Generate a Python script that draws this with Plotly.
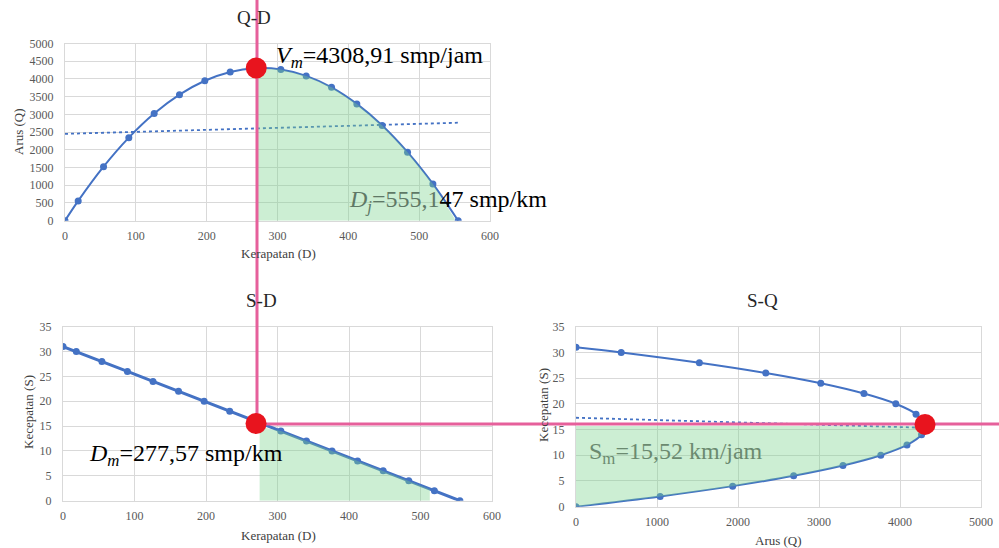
import plotly.graph_objects as go

# ---------------- data ----------------
density = [0, 18.6, 54.4, 90.1, 125.9, 161.6, 197.4, 233.2, 268.9, 304.7,
           340.5, 376.3, 412.0, 447.8, 483.6, 519.4, 555.1]
speed = [31, 30, 28, 26, 24, 22, 20, 18, 16, 14, 12, 10, 8, 6, 4, 2, 0]
flow = [0, 558, 1523, 2343, 3022, 3555, 3948, 4198, 4302, 4266, 4086,
        3763, 3296, 2687, 1934, 1039, 0]

# linear trend lines (dotted)
qd_trend_x = [0, 555.1]
qd_trend_y = [2450, 2765]
sq_trend_x = [0, 4302]
sq_trend_y = [17.3, 15.35]

# key values
Vm = 4308.91
Dj = 555.147
Dm = 277.57
Sm = 15.52
dot_D = 270
dot_S_sq = 16.0

x_ticks_D = [0, 100, 200, 300, 400, 500, 600]
y_ticks_Q = [0, 500, 1000, 1500, 2000, 2500, 3000, 3500, 4000, 4500, 5000]
y_ticks_S = [0, 5, 10, 15, 20, 25, 30, 35]
x_ticks_Q = [0, 1000, 2000, 3000, 4000, 5000]

# ---------------- styling ----------------
W, H = 999, 548
BLUE = "#4472C4"
GREEN = "rgba(120,210,140,0.38)"
PINK = "#E6609B"
RED = "#E8141E"
SERIF = "Liberation Serif, Times New Roman, DejaVu Serif, serif"
TICK = dict(family=SERIF, size=12, color="#595959")


def px(xp):
    return xp / W


def py(yp):
    return 1 - yp / H


fig = go.Figure()

# ---- Q-D ----
fig.add_trace(go.Scatter(x=density, y=flow, mode="lines+markers",
                         line=dict(color=BLUE, width=2, shape="spline", smoothing=1),
                         marker=dict(color=BLUE, size=7), xaxis="x", yaxis="y",
                         hoverinfo="skip"))
fig.add_trace(go.Scatter(x=qd_trend_x, y=qd_trend_y, mode="lines",
                         line=dict(color=BLUE, width=1.8, dash="dot"),
                         xaxis="x", yaxis="y", hoverinfo="skip"))
qd_fx = [272] + density[9:16] + [550, 550, 272]
qd_fy = [4295] + flow[9:16] + [60, 0, 0]
fig.add_trace(go.Scatter(x=qd_fx, y=qd_fy, mode="lines", fill="toself",
                         fillcolor=GREEN, line=dict(width=0),
                         xaxis="x", yaxis="y", hoverinfo="skip"))

# ---- S-D ----
fig.add_trace(go.Scatter(x=density, y=speed, mode="lines+markers",
                         line=dict(color=BLUE, width=3),
                         marker=dict(color=BLUE, size=7), xaxis="x2", yaxis="y2",
                         hoverinfo="skip"))
sd_fx = [275] + density[9:15] + [513, 513, 275]
sd_fy = [14.9] + speed[9:15] + [2.3, 0, 0]
fig.add_trace(go.Scatter(x=sd_fx, y=sd_fy, mode="lines", fill="toself",
                         fillcolor=GREEN, line=dict(width=0),
                         xaxis="x2", yaxis="y2", hoverinfo="skip"))

# ---- S-Q ----
fig.add_trace(go.Scatter(x=flow, y=speed, mode="lines+markers",
                         line=dict(color=BLUE, width=2, shape="spline", smoothing=1),
                         marker=dict(color=BLUE, size=7), xaxis="x3", yaxis="y3",
                         hoverinfo="skip"))
fig.add_trace(go.Scatter(x=sq_trend_x, y=sq_trend_y, mode="lines",
                         line=dict(color=BLUE, width=1.8, dash="dot"),
                         xaxis="x3", yaxis="y3", hoverinfo="skip"))
sq_fx = [0, 4290] + flow[9:16] + [0]
sq_fy = [15.7, 15.7] + speed[9:16] + [0]
fig.add_trace(go.Scatter(x=sq_fx, y=sq_fy, mode="lines", fill="toself",
                         fillcolor=GREEN, line=dict(width=0),
                         xaxis="x3", yaxis="y3", hoverinfo="skip"))


def xax(domain, rng, ticks, anchor):
    return dict(domain=domain, range=rng, tickvals=ticks, tickfont=TICK,
                showgrid=True, gridcolor="#d9d9d9", gridwidth=1,
                showline=True, mirror=True, linecolor="#d9d9d9", linewidth=1,
                zeroline=False, ticks="", ticklabelstandoff=4, anchor=anchor,
                automargin=False, fixedrange=True)


def yax(domain, rng, ticks, anchor):
    return dict(domain=domain, range=rng, tickvals=ticks, tickfont=TICK,
                showgrid=True, gridcolor="#d9d9d9", gridwidth=1,
                showline=True, mirror=True, linecolor="#d9d9d9", linewidth=1,
                zeroline=False, ticks="", ticklabelstandoff=8, anchor=anchor,
                automargin=False, fixedrange=True)


layout = dict(
    width=W, height=H, autosize=False,
    margin=dict(l=0, r=0, t=0, b=0, pad=0),
    paper_bgcolor="white", plot_bgcolor="white",
    showlegend=False, hovermode=False,
    xaxis=xax([px(65), px(490)], [0, 600], x_ticks_D, "y"),
    yaxis=yax([py(220.7), py(43.5)], [0, 5000], y_ticks_Q, "x"),
    xaxis2=xax([px(63), px(492)], [0, 600], x_ticks_D, "y2"),
    yaxis2=yax([py(500.7), py(326.7)], [0, 35], y_ticks_S, "x2"),
    xaxis3=xax([px(576), px(981)], [0, 5000], x_ticks_Q, "y3"),
    yaxis3=yax([py(506.7), py(326.7)], [0, 35], y_ticks_S, "x3"),
)
fig.update_layout(**layout)

# ---- shapes: pink guide lines, red dots ----
shapes = [
    dict(type="line", xref="paper", yref="paper", x0=px(257), x1=px(257),
         y0=py(425), y1=1, line=dict(color=PINK, width=3), layer="above"),
    dict(type="line", xref="paper", yref="paper", x0=px(257), x1=1,
         y0=py(424), y1=py(424), line=dict(color=PINK, width=3), layer="above"),
]
for xr, yr, xv, yv in [("x", "y", dot_D, Vm), ("x2", "y2", dot_D, Sm),
                       ("x3", "y3", Vm, dot_S_sq)]:
    shapes.append(dict(type="circle", xref=xr, yref=yr, xsizemode="pixel",
                       ysizemode="pixel", xanchor=xv, yanchor=yv,
                       x0=-10.5, x1=10.5, y0=-10.5, y1=10.5,
                       fillcolor=RED, line=dict(width=0), layer="above"))
fig.update_layout(shapes=shapes)

# ---- text ----
ann = []
for txt, x, y in [("Q-D", 254, 17), ("S-D", 261, 300), ("S-Q", 762, 300)]:
    ann.append(dict(text=txt, x=px(x), y=py(y), xref="paper", yref="paper",
                    showarrow=False, xanchor="center", yanchor="middle",
                    font=dict(family=SERIF, size=19, color="#262626")))
AX = dict(family=SERIF, size=13, color="#404040")
for txt, x, y in [("Kerapatan (D)", 278, 254), ("Kerapatan (D)", 278, 535),
                  ("Arus (Q)", 778, 540)]:
    ann.append(dict(text=txt, x=px(x), y=py(y), xref="paper", yref="paper",
                    showarrow=False, xanchor="center", yanchor="middle", font=AX))
for txt, x, y in [("Arus (Q)", 18, 132), ("Kecepatan (S)", 28, 412),
                  ("Kecepatan (S)", 543, 405)]:
    ann.append(dict(text=txt, x=px(x), y=py(y), xref="paper", yref="paper",
                    showarrow=False, xanchor="center", yanchor="middle",
                    textangle=-90, font=AX))

BIG = dict(family=SERIF, size=24, color="black")
ann.append(dict(text="<i>V<sub>m</sub></i>=4308,91 smp/jam", x=px(274), y=py(57),
                xref="paper", yref="paper", showarrow=False, xanchor="left",
                yanchor="middle", font=BIG))
ann.append(dict(text="<span style='color:#5f7866'><i>D<sub>j</sub></i>=555,1</span>47 smp/km",
                x=px(347), y=py(201), xref="paper", yref="paper", showarrow=False,
                xanchor="left", yanchor="middle", font=BIG))
ann.append(dict(text="<i>D<sub>m</sub></i>=277,57 smp/km", x=px(87), y=py(455),
                xref="paper", yref="paper", showarrow=False, xanchor="left",
                yanchor="middle", font=BIG))
ann.append(dict(text="S<sub>m</sub>=15,52 km/jam", x=px(587), y=py(453),
                xref="paper", yref="paper", showarrow=False, xanchor="left",
                yanchor="middle", font=dict(family=SERIF, size=24, color="#6b8a70")))
fig.update_layout(annotations=ann)

fig.write_html("out.html",
               config={"displayModeBar": False, "staticPlot": True},
               post_script="document.body.style.margin='0';"
                           "document.body.style.overflow='hidden';")
